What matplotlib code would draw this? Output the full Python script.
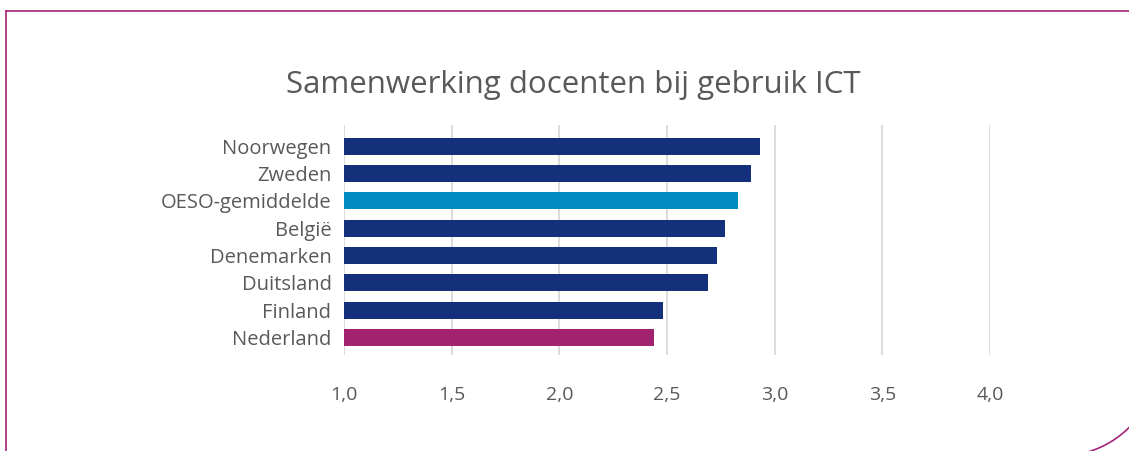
import numpy as np
import matplotlib.pyplot as plt
from matplotlib.lines import Line2D

countries = ['Noorwegen', 'Zweden', 'OESO-gemiddelde', 'België', 'Denemarken',
             'Duitsland', 'Finland', 'Nederland']
values = [2.93, 2.89, 2.83, 2.77, 2.73, 2.69, 2.48, 2.44]
colors = ['#14307a', '#14307a', '#008cc1', '#14307a', '#14307a',
          '#14307a', '#14307a', '#a3226f']

plt.rcParams['font.family'] = ['Open Sans', 'DejaVu Sans']

W, H = 1129, 451
fig = plt.figure(figsize=(W / 100, H / 100), dpi=100)
ax = fig.add_axes([344 / W, 1 - 355 / H, (990 - 344) / W, (355 - 125) / H])

y = np.arange(len(countries))
ax.barh(y, np.array(values) - 1.0, left=1.0, height=0.62, color=colors, zorder=3)
ax.set_ylim(7.64, -0.77)
ax.set_xlim(1.0, 4.0)
ax.set_xticks([1.0, 1.5, 2.0, 2.5, 3.0, 3.5, 4.0])
ax.set_xticklabels(['1,0', '1,5', '2,0', '2,5', '3,0', '3,5', '4,0'])
ax.set_yticks(y)
ax.set_yticklabels(countries)
ax.tick_params(axis='both', length=0, colors='#595959')
ax.tick_params(axis='x', pad=22, labelsize=14)
ax.tick_params(axis='y', pad=9, labelsize=14.5)
ax.grid(axis='x', color='#d9d9d9', linewidth=1.3, zorder=0)
for s in ax.spines.values():
    s.set_visible(False)

fig.text(573 / W, 1 - 85 / H, 'Samenwerking docenten bij gebruik ICT',
         ha='center', va='center', fontsize=22.5, color='#595959')

# frame around the chart
border = '#a4237a'
fig.add_artist(Line2D([6 / W, 6 / W], [0, 1 - 11 / H], color=border, lw=1.2,
                      transform=fig.transFigure))
fig.add_artist(Line2D([6 / W, 1], [1 - 11 / H, 1 - 11 / H], color=border, lw=1.2,
                      transform=fig.transFigure))
t = np.linspace(0, np.pi / 2, 60)
cx, cy, r = 1060, 358, 98
px = cx + r * np.sin(t)
py = cy + r * np.cos(t)
fig.add_artist(Line2D(px / W, 1 - py / H, color=border, lw=1.2,
                      transform=fig.transFigure))

fig.savefig('out.png', dpi=100)
